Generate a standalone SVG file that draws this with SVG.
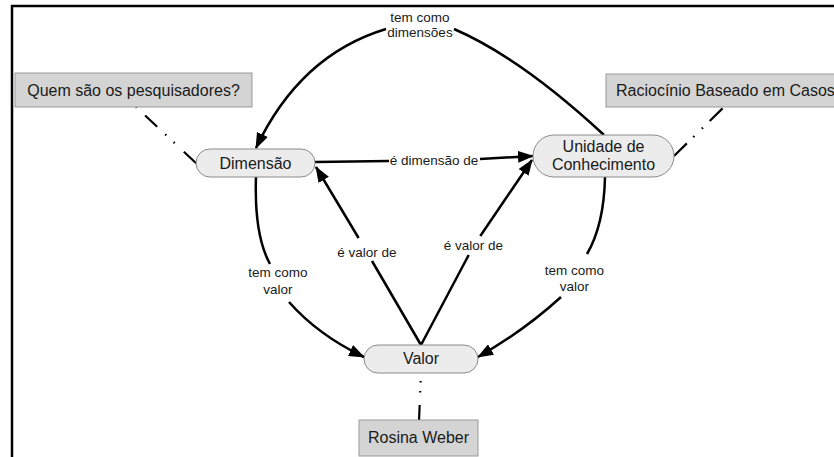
<svg xmlns="http://www.w3.org/2000/svg" width="834" height="457" viewBox="0 0 834 457">
<defs>
<marker id="arr" viewBox="0 0 16 12" refX="15" refY="6" markerWidth="16" markerHeight="12" markerUnits="userSpaceOnUse" orient="auto">
<path d="M0,0 L16,6 L0,12 z" fill="#000"/>
</marker>
<style>
.frame{stroke:#000;stroke-width:2.5;fill:none}
.concept{fill:#ececec;stroke:#8a8a8a;stroke-width:1}
.box{fill:#d4d4d4;stroke:#9a9a9a;stroke-width:1}
.nt{font-family:"Liberation Sans",Arial,sans-serif;font-size:16px;fill:#1a1a1a;text-anchor:middle}
.lt{font-family:"Liberation Sans",Arial,sans-serif;font-size:13.5px;fill:#1a1a1a;text-anchor:middle}
.ln{fill:none;stroke:#000;stroke-width:2.5}
.dl{fill:none;stroke:#000;stroke-width:2.2}
</style>
</defs>
<rect width="834" height="457" fill="#fff"/>
<path class="frame" d="M12,457 L12,6 L834,6"/>

<g id="connectors">
<!-- tem como dimensoes -->
<path class="ln" d="M604,135 Q521,58 454,29"/>
<path class="ln" d="M386,29 Q300,55 256,148" marker-end="url(#arr)"/>
<text class="lt" x="420" y="21.5">tem como</text>
<text class="lt" x="420" y="37">dimensões</text>
<!-- e dimensao de -->
<path class="ln" d="M315,162 L389,161"/>
<path class="ln" d="M480,159 L533,156" marker-end="url(#arr)"/>
<text class="lt" x="434" y="164.5">é dimensão de</text>
<!-- e valor de (left) -->
<path class="ln" d="M421,345 L372,261"/>
<path class="ln" d="M358.6,238 L316,167" marker-end="url(#arr)"/>
<text class="lt" x="367" y="257">é valor de</text>
<!-- e valor de (right) -->
<path class="ln" d="M421,345 L468.7,255"/>
<path class="ln" d="M480.3,236 L532,160" marker-end="url(#arr)"/>
<text class="lt" x="473.5" y="250">é valor de</text>
<!-- tem como valor (left) -->
<path class="ln" d="M256,177 Q254,235 270,264"/>
<path class="ln" d="M289,302 Q318,335 364,357" marker-end="url(#arr)"/>
<text class="lt" x="278" y="277">tem como</text>
<text class="lt" x="278" y="294">valor</text>
<!-- tem como valor (right) -->
<path class="ln" d="M605,177 Q604,225 587,254"/>
<path class="ln" d="M561,297 Q525,330 478,357" marker-end="url(#arr)"/>
<text class="lt" x="574.5" y="274.5">tem como</text>
<text class="lt" x="574.5" y="290.5">valor</text>
<!-- dashed links -->
<path class="dl" d="M197,164 L136,107" stroke-dasharray="18 12.5 1.5 10 1.5 11 16.5 11.5 1.5 5"/>
<path class="dl" d="M674,156 L724,107" stroke-dasharray="18 9 1.5 10.5 1.5 9.5 18 5"/>
<path class="dl" d="M421,373 L419,421" stroke-dasharray="0 8 1.5 8.5 1.5 12.5 20"/>
</g>

<g id="quem">
<rect class="box" x="15" y="73" width="237" height="34"/>
<text class="nt" x="133.5" y="96">Quem são os pesquisadores?</text>
</g>
<g id="raciocinio">
<rect class="box" x="606" y="74" width="240" height="33"/>
<text class="nt" x="616" y="96" style="text-anchor:start">Raciocínio Baseado em Casos</text>
</g>
<g id="dimensao">
<rect class="concept" x="196" y="149" width="119" height="28" rx="14" ry="14"/>
<text class="nt" x="255.5" y="169">Dimensão</text>
</g>
<g id="unidade">
<rect class="concept" x="533" y="135" width="141" height="42" rx="21" ry="21"/>
<text class="nt" x="603.5" y="152">Unidade de</text>
<text class="nt" x="603.5" y="170">Conhecimento</text>
</g>
<g id="valor">
<rect class="concept" x="364" y="345" width="114" height="28" rx="14" ry="14"/>
<text class="nt" x="421" y="364">Valor</text>
</g>
<g id="rosina">
<rect class="box" x="359" y="420" width="119" height="36"/>
<text class="nt" x="418.5" y="443">Rosina Weber</text>
</g>
</svg>
